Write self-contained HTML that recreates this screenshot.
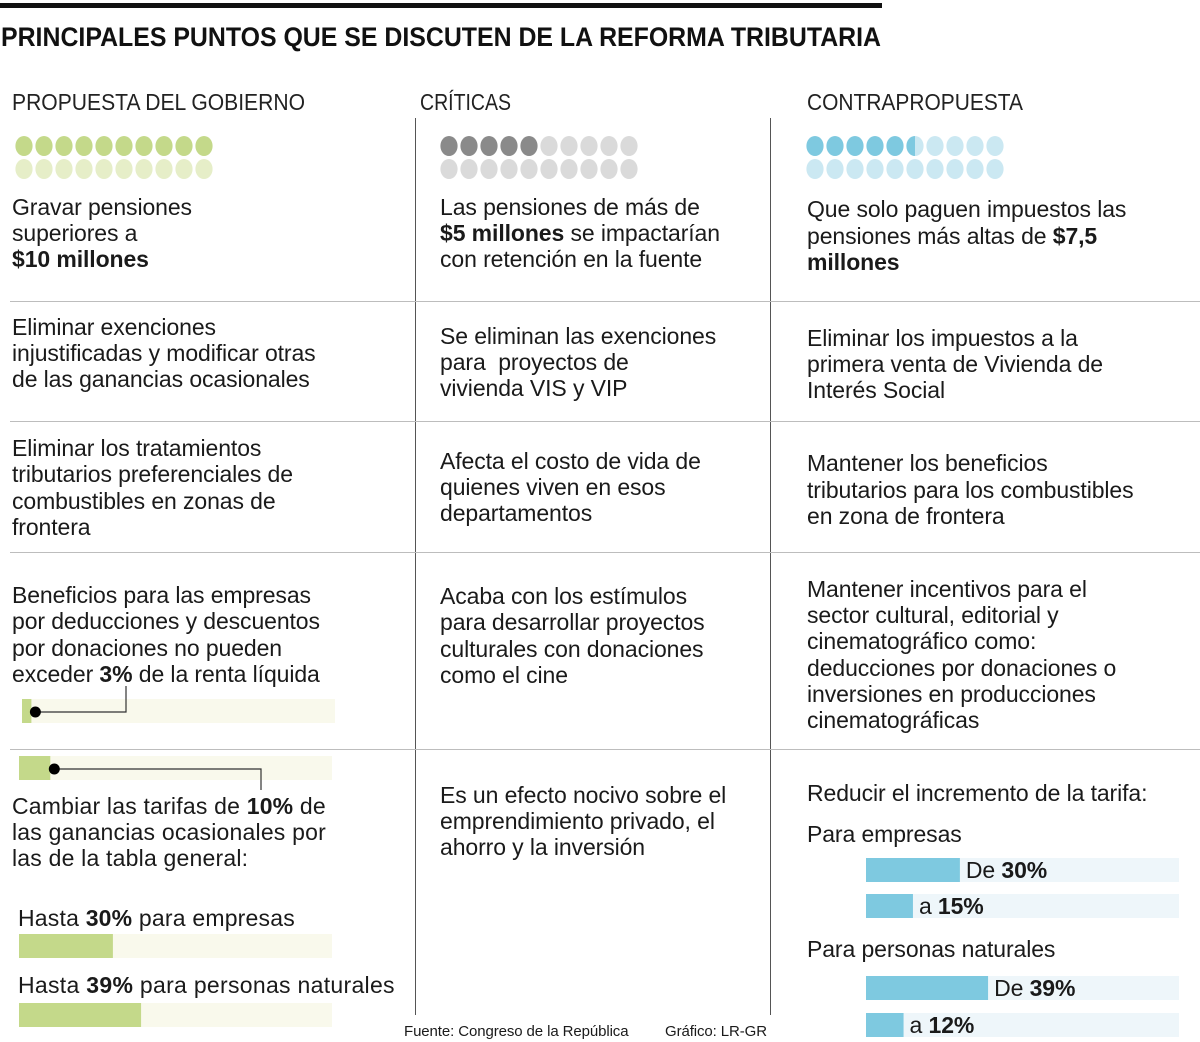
<!DOCTYPE html>
<html><head><meta charset="utf-8">
<style>
body{margin:0;background:#fff;}
#root{position:relative;width:1200px;height:1042px;overflow:hidden;background:#fff;font-family:"Liberation Sans","DejaVu Sans",sans-serif;color:#1a1a1a;}
.t{position:absolute;font-size:23px;line-height:26px;white-space:nowrap;letter-spacing:-0.1px;}
.t b{font-weight:bold;}
.hl{position:absolute;height:1px;background:#bdbdbd;left:10px;width:1190px;}
.vl{position:absolute;width:1px;background:#555;top:118px;height:897px;}
svg{position:absolute;left:0;top:0;}
</style></head><body>
<div id="root">
<div style="position:absolute;left:0;top:3px;width:882px;height:5px;background:#111"></div>
<svg width="1200" height="1042" id="svg">
<text x="1" y="46" font-family="Liberation Sans, sans-serif" font-weight="bold" font-size="27" textLength="880" lengthAdjust="spacingAndGlyphs" fill="#111">PRINCIPALES PUNTOS QUE SE DISCUTEN DE LA REFORMA TRIBUTARIA</text>
<text x="12" y="110" font-family="Liberation Sans, sans-serif" font-size="23" textLength="293" lengthAdjust="spacingAndGlyphs" fill="#222">PROPUESTA DEL GOBIERNO</text>
<text x="420" y="110" font-family="Liberation Sans, sans-serif" font-size="23" textLength="91" lengthAdjust="spacingAndGlyphs" fill="#222">CRÍTICAS</text>
<text x="807" y="110" font-family="Liberation Sans, sans-serif" font-size="23" textLength="216" lengthAdjust="spacingAndGlyphs" fill="#222">CONTRAPROPUESTA</text>
<g id="dots"></g>
<g id="bars"></g>
</svg>
<div class="vl" style="left:415px"></div>
<div class="vl" style="left:770px"></div>
<div class="hl" style="top:301px"></div>
<div class="hl" style="top:421px"></div>
<div class="hl" style="top:552px"></div>
<div class="hl" style="top:749px"></div>

<div class="t" style="left:12px;top:194px">Gravar pensiones<br>superiores a<br><b>$10 millones</b></div>
<div class="t" style="left:440px;top:194px">Las pensiones de más de<br><b>$5 millones</b> se impactarían<br>con retención en la fuente</div>
<div class="t" style="left:807px;top:196px;line-height:26.5px">Que solo paguen impuestos las<br>pensiones más altas de <b>$7,5</b><br><b>millones</b></div>

<div class="t" style="left:12px;top:314px">Eliminar exenciones<br>injustificadas y modificar otras<br>de las ganancias ocasionales</div>
<div class="t" style="left:440px;top:323px">Se eliminan las exenciones<br>para &nbsp;proyectos de<br>vivienda VIS y VIP</div>
<div class="t" style="left:807px;top:325px">Eliminar los impuestos a la<br>primera venta de Vivienda de<br>Interés Social</div>

<div class="t" style="left:12px;top:435px;line-height:26.3px">Eliminar los tratamientos<br>tributarios preferenciales de<br>combustibles en zonas de<br>frontera</div>
<div class="t" style="left:440px;top:448px">Afecta el costo de vida de<br>quienes viven en esos<br>departamentos</div>
<div class="t" style="left:807px;top:450px;line-height:26.5px">Mantener los beneficios<br>tributarios para los combustibles<br>en zona de frontera</div>

<div class="t" style="left:12px;top:582px;line-height:26.3px">Beneficios para las empresas<br>por deducciones y descuentos<br>por donaciones no pueden<br>exceder <b>3%</b> de la renta líquida</div>
<div class="t" style="left:440px;top:583px;line-height:26.3px">Acaba con los estímulos<br>para desarrollar proyectos<br>culturales con donaciones<br>como el cine</div>
<div class="t" style="left:807px;top:576px;line-height:26.2px">Mantener incentivos para el<br>sector cultural, editorial y<br>cinematográfico como:<br>deducciones por donaciones o<br>inversiones en producciones<br>cinematográficas</div>

<div class="t" style="left:12px;top:793px;letter-spacing:0.2px">Cambiar las tarifas de <b>10%</b> de<br>las ganancias ocasionales por<br>las de la tabla general:</div>
<div class="t" style="left:18px;top:905px;letter-spacing:0.2px">Hasta <b>30%</b> para empresas</div>
<div class="t" style="left:18px;top:972px;letter-spacing:0.3px">Hasta <b>39%</b> para personas naturales</div>
<div class="t" style="left:440px;top:782px">Es un efecto nocivo sobre el<br>emprendimiento privado, el<br>ahorro y la inversión</div>
<div class="t" style="left:807px;top:780px">Reducir el incremento de la tarifa:</div>
<div class="t" style="left:807px;top:821px">Para empresas</div>
<div class="t" style="left:807px;top:936px">Para personas naturales</div>
<div id="barlabels"></div>

<div class="t" style="left:404px;top:1022px;font-size:15px;line-height:20px">Fuente: Congreso de la República</div>
<div class="t" style="left:665px;top:1022px;font-size:15px;line-height:20px">Gráfico: LR-GR</div>
</div>
<script>
// dot-matrix data (filled dots out of 20)
const dotGroups = ["propuesta","criticas","contrapropuesta"];
const dotFilled = [10, 5, 5.5];
// bar data (percent values)
const leftBarLabels = ["donaciones-3","tarifa-10","hasta-30","hasta-39"];
const leftBarValues = [3, 10, 30, 39];
const rightBarLabels = ["De","a","De","a"];
const rightBarValues = [30, 15, 39, 12];

const NS="http://www.w3.org/2000/svg";
const pxPerPct = 3.13;
function xScale(v){return v*pxPerPct;}

const dotsG=document.getElementById('dots');
const groupX=[24,449,815];
const fullCol=[["#c4d98a","#e6eec8"],["#8a8a8a","#dadada"],["#7ec9e0","#cbe8f2"]];
dotGroups.forEach((g,gi)=>{
  for(let i=0;i<20;i++){
    const row=Math.floor(i/10), col=i%10;
    const cx=groupX[gi]+col*20, cy=146+row*23;
    const e=document.createElementNS(NS,'ellipse');
    e.setAttribute('cx',cx);e.setAttribute('cy',cy);e.setAttribute('rx',8.6);e.setAttribute('ry',10);
    const f=dotFilled[gi];
    let fill = (i < Math.floor(f)) ? fullCol[gi][0] : fullCol[gi][1];
    e.setAttribute('fill',fill);
    
    
    dotsG.appendChild(e);
    if(i===Math.floor(f) && f%1){
      const h=document.createElementNS(NS,'path');
      h.setAttribute('d',`M${cx},${cy-10} A8.6,10 0 0 0 ${cx},${cy+10} Z`);
      h.setAttribute('fill',fullCol[gi][0]);
      
      
      dotsG.appendChild(h);
    }
  }
});

const barsG=document.getElementById('bars');
function rect(x,y,w,h,fill,name){
  const r=document.createElementNS(NS,'rect');
  r.setAttribute('x',x);r.setAttribute('y',y);r.setAttribute('width',w);r.setAttribute('height',h);r.setAttribute('fill',fill);
  
  
  barsG.appendChild(r);
}
const leftX=[22,19,19,19], leftY=[699,756,934,1003];
leftBarValues.forEach((v,i)=>{
  rect(leftX[i],leftY[i],313,24,'#f9f9ec','bar-track-'+leftBarLabels[i]);
  rect(leftX[i],leftY[i],xScale(v),24,'#c4d98a','bar-'+leftBarLabels[i]);
});
function callout(i,lx,ly){
  const cx=leftX[i]+xScale(leftBarValues[i])+4, cy=leftY[i]+13;
  const p=document.createElementNS(NS,'path');
  p.setAttribute('d',`M${cx},${cy} H${lx} V${ly}`);
  p.setAttribute('stroke','#333');p.setAttribute('fill','none');p.setAttribute('stroke-width','1.2');
  
  
  barsG.appendChild(p);
  const c=document.createElementNS(NS,'circle');
  c.setAttribute('cx',cx);c.setAttribute('cy',cy);c.setAttribute('r',5.5);c.setAttribute('fill','#000');
  
  
  barsG.appendChild(c);
}
callout(0,126,686);
callout(1,261,790);

const rightY=[858,894,976,1013];
const lblDiv=document.getElementById('barlabels');
rightBarValues.forEach((v,i)=>{
  rect(866,rightY[i],313,24,'#eef6fa','bar-track-right-'+i);
  rect(866,rightY[i],xScale(v),24,'#7ec9e0','bar-right-'+i);
  const d=document.createElement('div');
  d.className='t';
  d.style.left=(866+xScale(v)+6)+'px';
  d.style.top=(rightY[i]-1)+'px';
  d.innerHTML=rightBarLabels[i]+' <b>'+v+'%</b>';
  
  
  lblDiv.appendChild(d);
});
</script>
</body></html>
